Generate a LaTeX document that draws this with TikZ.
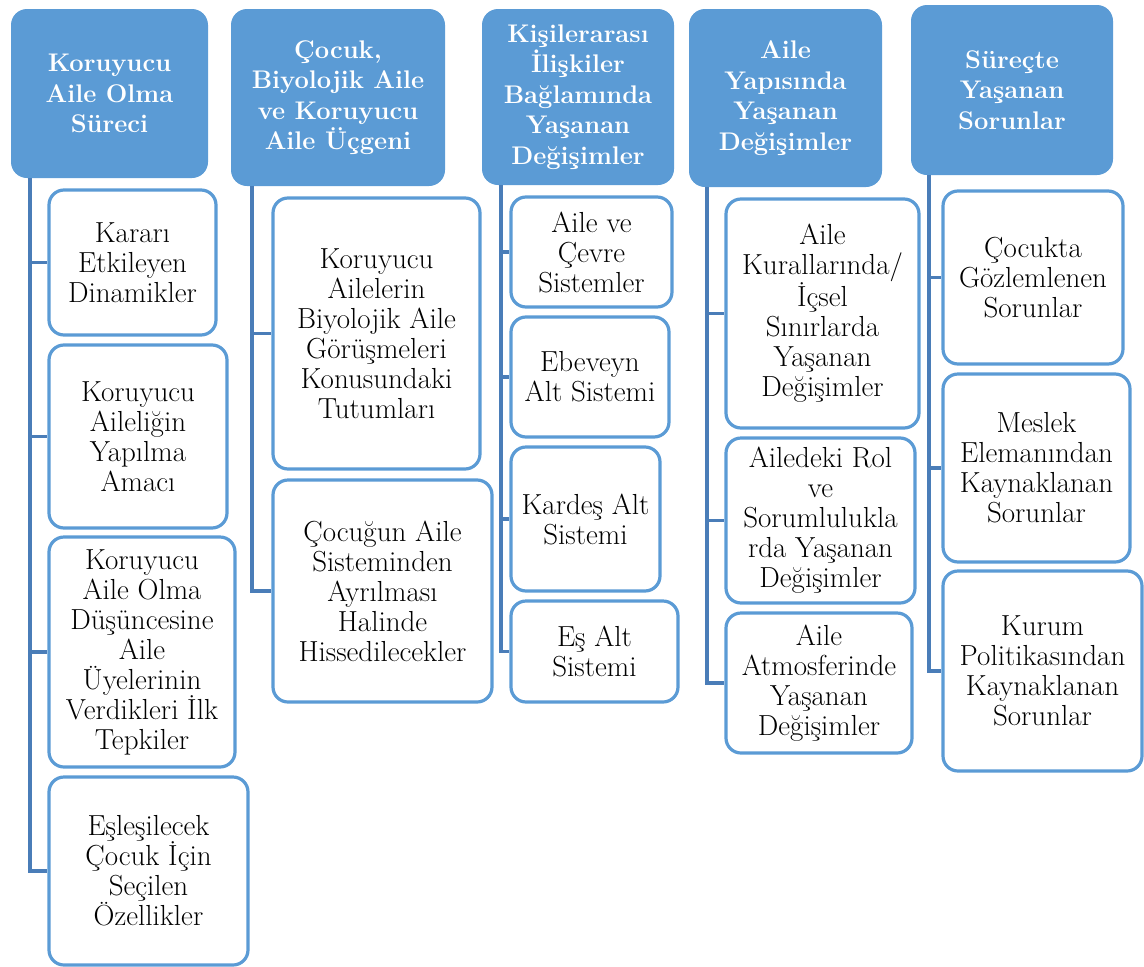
\documentclass[tikz,border=0pt]{standalone}
\usepackage{fontspec}
\definecolor{hdrfill}{HTML}{5B9BD5}
\definecolor{boxline}{HTML}{5B9BD5}
\definecolor{connline}{HTML}{4A7DB8}
\tikzset{
  hdr/.style={rectangle, rounded corners=16pt, fill=hdrfill, draw=none, text=white,
    align=center, inner sep=0pt, font=\fontsize{25.5}{30.5}\selectfont\bfseries},
  kid/.style={rectangle, rounded corners=15pt, fill=white, draw=boxline, line width=3.2pt,
    align=center, inner sep=0pt, font=\fontsize{29}{30}\selectfont},
  conn/.style={draw=connline, line width=3.2pt}
}
\begin{document}
\begin{tikzpicture}[x=1pt,y=-1pt]
\useasboundingbox (0,0) rectangle (1144,967);
% headers
\node[hdr, minimum width=197pt, minimum height=169pt] (h1) at (109.5,93.5) {Koruyucu\\Aile Olma\\Süreci};
\node[hdr, minimum width=214pt, minimum height=177pt] (h2) at (338,97.5) {Çocuk,\\Biyolojik Aile\\ve Koruyucu\\Aile Üçgeni};
\node[hdr, minimum width=192pt, minimum height=176pt] (h3) at (578,97) {Kişilerarası\\İlişkiler\\Bağlamında\\Yaşanan\\Değişimler};
\node[hdr, minimum width=193pt, minimum height=178pt] (h4) at (785.5,98) {Aile\\Yapısında\\Yaşanan\\Değişimler};
\node[hdr, minimum width=202pt, minimum height=170pt] (h5) at (1012,90) {Süreçte\\Yaşanan\\Sorunlar};
% spine coordinates
\coordinate (s1) at (30,0);
\coordinate (s2) at (252,0);
\coordinate (s3) at (501,0);
\coordinate (s4) at (707,0);
\coordinate (s5) at (929,0);
% children column 1
\node[kid, minimum width=167pt, minimum height=145pt] (c1a) at (132.5,262.5) {Kararı\\Etkileyen\\Dinamikler};
\node[kid, minimum width=178pt, minimum height=183pt] (c1b) at (138,436.5) {Koruyucu\\Aileliğin\\Yapılma\\Amacı};
\node[kid, minimum width=186pt, minimum height=230pt] (c1c) at (142,652) {Koruyucu\\Aile Olma\\Düşüncesine\\Aile\\Üyelerinin\\Verdikleri İlk\\Tepkiler};
\node[kid, minimum width=199pt, minimum height=188pt] (c1d) at (148.5,871) {Eşleşilecek\\Çocuk İçin\\Seçilen\\Özellikler};
% column 2
\node[kid, minimum width=207pt, minimum height=271pt] (c2a) at (376.5,333.5) {Koruyucu\\Ailelerin\\Biyolojik Aile\\Görüşmeleri\\Konusundaki\\Tutumları};
\node[kid, minimum width=219pt, minimum height=222pt] (c2b) at (382.5,591) {Çocuğun Aile\\Sisteminden\\Ayrılması\\Halinde\\Hissedilecekler};
% column 3
\node[kid, minimum width=161pt, minimum height=110pt] (c3a) at (591.5,252) {Aile ve\\Çevre\\Sistemler};
\node[kid, minimum width=158pt, minimum height=120pt] (c3b) at (590,377) {Ebeveyn\\Alt Sistemi};
\node[kid, minimum width=149pt, minimum height=144pt] (c3c) at (585.5,519) {Kardeş Alt\\Sistemi};
\node[kid, minimum width=167pt, minimum height=101pt] (c3d) at (594.5,651.5) {Eş Alt\\Sistemi};
% column 4
\node[kid, minimum width=193pt, minimum height=229pt] (c4a) at (822.5,313.5) {Aile\\Kurallarında/\\İçsel\\Sınırlarda\\Yaşanan\\Değişimler};
\node[kid, minimum width=189pt, minimum height=165pt] (c4b) at (820.5,520.5) {Ailedeki Rol\\ve\\Sorumlulukla\\rda Yaşanan\\Değişimler};
\node[kid, minimum width=186pt, minimum height=140pt] (c4c) at (819,683) {Aile\\Atmosferinde\\Yaşanan\\Değişimler};
% column 5
\node[kid, minimum width=180pt, minimum height=173pt] (c5a) at (1033,277.5) {Çocukta\\Gözlemlenen\\Sorunlar};
\node[kid, minimum width=187pt, minimum height=188pt] (c5b) at (1036.5,468) {Meslek\\Elemanından\\Kaynaklanan\\Sorunlar};
\node[kid, minimum width=199pt, minimum height=200pt] (c5c) at (1042.5,671) {Kurum\\Politikasından\\Kaynaklanan\\Sorunlar};
% connectors
\draw[conn] (h1.south -| s1) |- (c1d.west);
\draw[conn] (s1 |- c1a.west) -- (c1a.west);
\draw[conn] (s1 |- c1b.west) -- (c1b.west);
\draw[conn] (s1 |- c1c.west) -- (c1c.west);
\draw[conn] (h2.south -| s2) |- (c2b.west);
\draw[conn] (s2 |- c2a.west) -- (c2a.west);
\draw[conn] (h3.south -| s3) |- (c3d.west);
\draw[conn] (s3 |- c3a.west) -- (c3a.west);
\draw[conn] (s3 |- c3b.west) -- (c3b.west);
\draw[conn] (s3 |- c3c.west) -- (c3c.west);
\draw[conn] (h4.south -| s4) |- (c4c.west);
\draw[conn] (s4 |- c4a.west) -- (c4a.west);
\draw[conn] (s4 |- c4b.west) -- (c4b.west);
\draw[conn] (h5.south -| s5) |- (c5c.west);
\draw[conn] (s5 |- c5a.west) -- (c5a.west);
\draw[conn] (s5 |- c5b.west) -- (c5b.west);
\end{tikzpicture}
\end{document}
